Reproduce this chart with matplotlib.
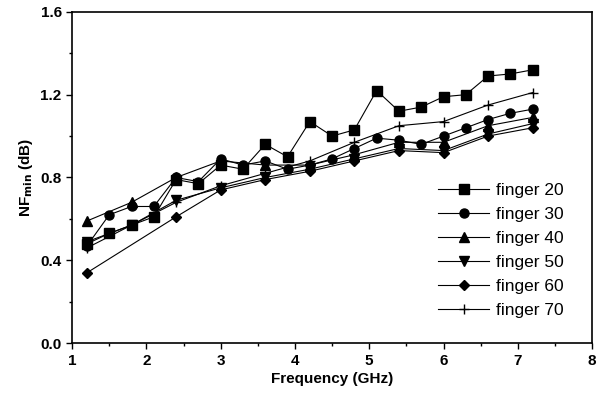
import numpy as np
import matplotlib.pyplot as plt
from matplotlib.ticker import MultipleLocator

# frequency points (GHz)
freq_fine = [1.2, 1.5, 1.8, 2.1, 2.4, 2.7, 3.0, 3.3, 3.6, 3.9, 4.2,
             4.5, 4.8, 5.1, 5.4, 5.7, 6.0, 6.3, 6.6, 6.9, 7.2]
freq_coarse = [1.2, 1.8, 2.4, 3.0, 3.6, 4.2, 4.8, 5.4, 6.0, 6.6, 7.2]
freq_f60 = [1.2, 2.4, 3.0, 3.6, 4.2, 4.8, 5.4, 6.0, 6.6, 7.2]

# NFmin (dB)
nf_f20 = [0.48, 0.53, 0.57, 0.61, 0.79, 0.77, 0.86, 0.84, 0.96, 0.90, 1.07,
          1.00, 1.03, 1.22, 1.12, 1.14, 1.19, 1.20, 1.29, 1.30, 1.32]
nf_f30 = [0.47, 0.62, 0.66, 0.66, 0.80, 0.78, 0.89, 0.86, 0.88, 0.84, 0.86,
          0.89, 0.94, 0.99, 0.98, 0.96, 1.00, 1.04, 1.08, 1.11, 1.13]
nf_f40 = [0.59, 0.68, 0.80, 0.88, 0.86, 0.86, 0.91, 0.97, 0.97, 1.05, 1.09]
nf_f50 = [0.49, 0.57, 0.69, 0.75, 0.80, 0.84, 0.89, 0.94, 0.93, 1.01, 1.06]
nf_f60 = [0.34, 0.61, 0.74, 0.79, 0.83, 0.88, 0.93, 0.92, 1.00, 1.04]
nf_f70 = [0.46, 0.57, 0.68, 0.76, 0.82, 0.88, 0.97, 1.05, 1.07, 1.15, 1.21]

labels = ["finger 20", "finger 30", "finger 40", "finger 50", "finger 60", "finger 70"]

plt.rcParams['font.family'] = ['Liberation Sans', 'DejaVu Sans']

fig = plt.figure(figsize=(6.06, 3.94), dpi=100)
ax = fig.add_axes([0.119, 0.129, 0.858, 0.841])

series = [
    (freq_fine, nf_f20, 's', 6.5),
    (freq_fine, nf_f30, 'o', 6.5),
    (freq_coarse, nf_f40, '^', 6.5),
    (freq_coarse, nf_f50, 'v', 6.5),
    (freq_f60, nf_f60, 'D', 5),
    (freq_coarse, nf_f70, '+', 7),
]
for (x, y, m, ms), lab in zip(series, labels):
    ax.plot(x, y, color='black', lw=0.8, marker=m, ms=ms, mew=1.0, label=lab)

ax.set_xlim(1, 8)
ax.set_ylim(0.0, 1.6)
ax.xaxis.set_major_locator(MultipleLocator(1))
ax.xaxis.set_minor_locator(MultipleLocator(0.5))
ax.yaxis.set_major_locator(MultipleLocator(0.4))
ax.yaxis.set_minor_locator(MultipleLocator(0.2))
ax.set_yticks(np.arange(0, 1.61, 0.4))
ax.set_yticklabels(["0.0", "0.4", "0.8", "1.2", "1.6"])
ax.tick_params(which='both', direction='out', top=False, right=False,
               labelsize=11)
ax.tick_params(which='major', length=4, width=1)
ax.tick_params(which='minor', length=2.5, width=1)
for lbl in ax.get_xticklabels() + ax.get_yticklabels():
    lbl.set_fontweight('bold')
for sp in ax.spines.values():
    sp.set_linewidth(1.2)

ax.set_xlabel("Frequency (GHz)", fontsize=11, fontweight='bold', labelpad=3)
ax.set_ylabel(r"NF$_{\mathbf{min}}$ (dB)", fontsize=11, fontweight='bold',
              labelpad=4)

ax.legend(loc='lower right', bbox_to_anchor=(0.975, 0.03), frameon=False,
          fontsize=12.5, handlelength=2.9, labelspacing=0.5, handletextpad=0.4)

fig.savefig("out.png", dpi=100)
